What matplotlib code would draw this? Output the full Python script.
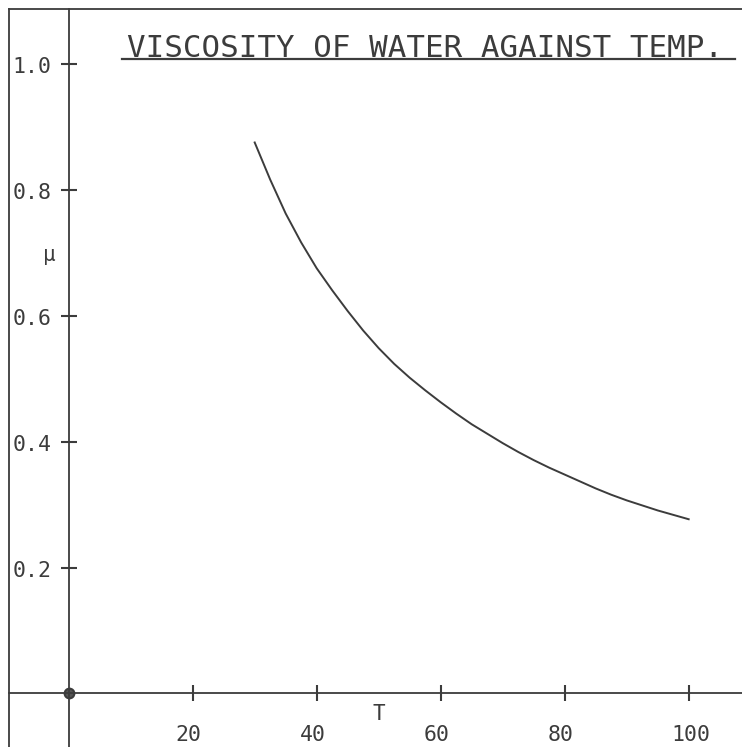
import matplotlib
matplotlib.use('Agg')
import matplotlib.pyplot as plt

# viscosity readings
temp = [30, 32.5, 35, 37.5, 40, 42.5, 45, 47.5, 50, 52.5, 55, 57.5, 60,
        62.5, 65, 67.5, 70, 72.5, 75, 77.5, 80, 82.5, 85, 87.5, 90, 92.5,
        95, 97.5, 100]
visc = [0.876, 0.817, 0.763, 0.717, 0.676, 0.641, 0.608, 0.577, 0.549,
        0.524, 0.502, 0.482, 0.463, 0.445, 0.428, 0.413, 0.398, 0.384,
        0.371, 0.359, 0.348, 0.337, 0.326, 0.316, 0.307, 0.299, 0.291,
        0.284, 0.277]

x_ticks = [20, 40, 60, 80, 100]
x_tick_labels = ['20', '40', '60', '80', '100']
y_ticks = [0.2, 0.4, 0.6, 0.8, 1.0]
y_tick_labels = ['0.2', '0.4', '0.6', '0.8', '1.0']
title = 'VISCOSITY OF WATER AGAINST TEMP.'

ink = '#3c3c3c'
font = 'DejaVu Sans Mono'

fig = plt.figure(figsize=(7.42, 7.47), dpi=100)
ax = fig.add_axes([0, 0, 1, 1])
ax.set_xlim(-11.08, 108.6)
ax.set_ylim(-0.0851, 1.1025)

# frame of the plotter sheet
frame_left = -9.63
frame_top = 1.0875
ax.plot([frame_left, frame_left], [-0.0851, frame_top], color=ink, lw=1.3)
ax.plot([frame_left, 108.6], [frame_top, frame_top], color=ink, lw=1.3)

# axes through the origin
for s in ['top', 'right']:
    ax.spines[s].set_visible(False)
ax.spines['left'].set_position(('data', 0))
ax.spines['bottom'].set_position(('data', 0))
ax.spines['left'].set_bounds(-0.0851, frame_top)
ax.spines['bottom'].set_bounds(frame_left, 108.6)
for s in ['left', 'bottom']:
    ax.spines[s].set_color(ink)
    ax.spines[s].set_linewidth(1.3)

ax.set_xticks(x_ticks)
ax.set_yticks(y_ticks)
ax.set_xticklabels([])
ax.set_yticklabels([])
ax.tick_params(direction='inout', length=11, width=1.5, color=ink)

for t, lab in zip(x_ticks, x_tick_labels):
    ax.annotate(lab, xy=(t, 0), xytext=(-17, -48), textcoords='offset pixels',
                ha='left', va='baseline', fontsize=15.5, family=font, color=ink)
for v, lab in zip(y_ticks, y_tick_labels):
    ax.annotate(lab, xy=(0, v), xytext=(-17, -3), textcoords='offset pixels',
                ha='right', va='center', fontsize=15.5, family=font, color=ink)

ax.plot([0], [0], marker='o', ms=7, mfc='#555555', mec=ink, mew=1.5)

ax.plot(temp, visc, color=ink, lw=1.4)

ax.text(-3.18, 0.697, 'μ', ha='center', va='center', fontsize=15,
        family=font, color=ink)
ax.text(50.1, -0.033, 'T', ha='center', va='center', fontsize=15,
        family=font, color=ink)

ax.text(9.35, 1.012, title, ha='left', va='baseline', fontsize=22.2,
        family=font, color=ink)
ax.plot([8.55, 107.5], [1.008, 1.008], color=ink, lw=1.6)

fig.savefig('out.png', dpi=100)
